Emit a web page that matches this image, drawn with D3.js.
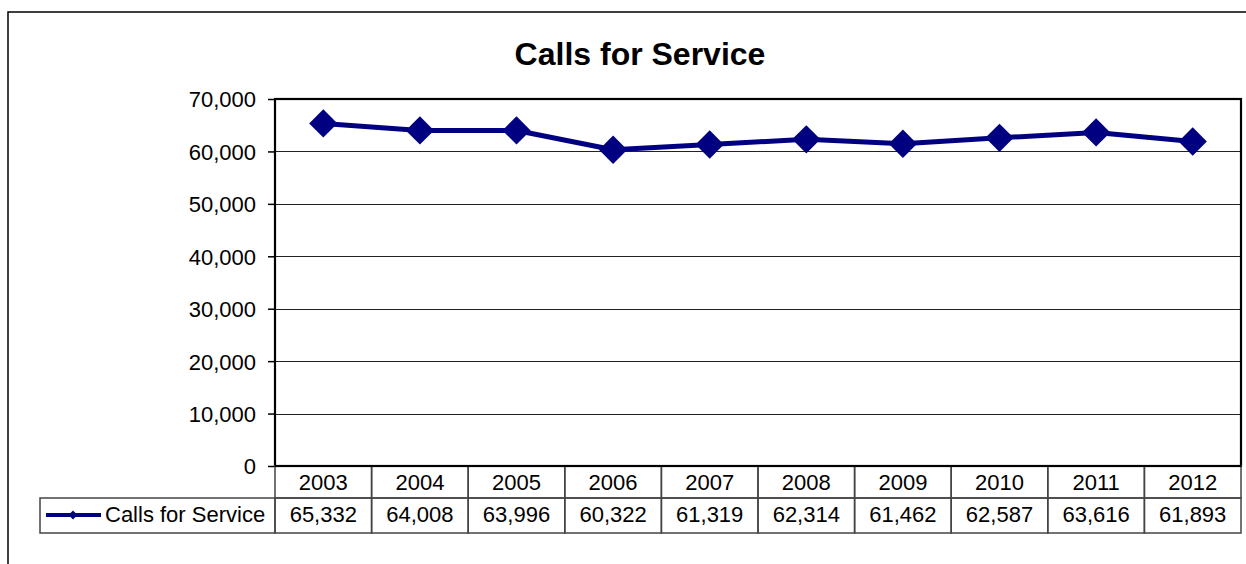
<!DOCTYPE html>
<html><head><meta charset="utf-8">
<script src="https://cdn.jsdelivr.net/npm/d3@7"></script>
<style>body{margin:0;background:#fff;}svg{display:block;font-family:"Liberation Sans",Arial,sans-serif;}</style>
</head><body>
<svg id="c" width="1246" height="564"></svg>
<script>
const title = "Calls for Service";
const seriesName = "Calls for Service";
const years = ["2003","2004","2005","2006","2007","2008","2009","2010","2011","2012"];
const calls = [65332,64008,63996,60322,61319,62314,61462,62587,63616,61893];
const yTicks = [0,10000,20000,30000,40000,50000,60000,70000];

const svg = d3.select("#c");
const L = 275, R = 1241, T = 99, B = 466;
const row1 = 498, row2 = 533, legL = 40;
const fmt = d3.format(",");
const navy = "#000080";
const fs = 22;

// outer frame
svg.append("rect").attr("x",8).attr("y",12).attr("width",1250).attr("height",570)
  .attr("fill","none").attr("stroke","#000").attr("stroke-width",1.5);

svg.append("text").attr("x",640).attr("y",65).attr("text-anchor","middle")
  .attr("font-size",32).attr("font-weight","bold").text(title);

const x = d3.scaleBand().domain(years).range([L,R]);
const y = d3.scaleLinear().domain([0,70000]).range([B,T]);

// gridlines
svg.append("g").selectAll("line").data(yTicks.slice(1)).join("line")
  .attr("x1",L).attr("x2",R).attr("y1",d=>Math.round(y(d))+0.5).attr("y2",d=>Math.round(y(d))+0.5)
  .attr("stroke","#222").attr("stroke-width",1);

// y axis
const ya = svg.append("g").attr("transform",`translate(${L},0)`)
  .call(d3.axisLeft(y).tickValues(yTicks).tickFormat(fmt).tickSize(7).tickPadding(12));
ya.select(".domain").remove();
ya.selectAll("line").attr("stroke","#000").attr("stroke-width",1.5);
ya.selectAll("text").attr("font-size",fs).attr("fill","#000").attr("font-family","Liberation Sans, Arial, sans-serif").attr("dy","0.36em");

// plot border
svg.append("rect").attr("x",L).attr("y",T).attr("width",R-L).attr("height",B-T)
  .attr("fill","none").attr("stroke","#000").attr("stroke-width",2.2);

// line
const line = d3.line().x((d,i)=>x(years[i])+x.bandwidth()/2).y(d=>y(d));
svg.append("path").datum(calls).attr("d",line).attr("fill","none")
  .attr("stroke",navy).attr("stroke-width",5).attr("stroke-linejoin","round");
svg.append("g").selectAll("path").data(calls).join("path")
  .attr("transform",(d,i)=>`translate(${x(years[i])+x.bandwidth()/2},${y(d)}) rotate(45)`)
  .attr("d",d3.symbol().type(d3.symbolSquare).size(400)).attr("fill",navy);

// data table
const tg = svg.append("g");
const gridC = "#444";
years.forEach((yr,i)=>{
  tg.append("rect").attr("x",x(yr)).attr("y",B).attr("width",x.bandwidth()).attr("height",row1-B)
    .attr("fill","none").attr("stroke",gridC).attr("stroke-width",1.5);
  tg.append("text").attr("x",x(yr)+x.bandwidth()/2).attr("y",B+24).attr("text-anchor","middle")
    .attr("font-size",fs).text(yr);
  tg.append("rect").attr("x",x(yr)).attr("y",row1).attr("width",x.bandwidth()).attr("height",row2-row1)
    .attr("fill","none").attr("stroke",gridC).attr("stroke-width",1.5);
  tg.append("text").attr("x",x(yr)+x.bandwidth()/2).attr("y",row1+24).attr("text-anchor","middle")
    .attr("font-size",fs).text(fmt(calls[i]));
});
tg.append("rect").attr("x",legL).attr("y",row1).attr("width",L-legL).attr("height",row2-row1)
  .attr("fill","none").attr("stroke",gridC).attr("stroke-width",1.5);
tg.append("line").attr("x1",46).attr("x2",101).attr("y1",515).attr("y2",515)
  .attr("stroke",navy).attr("stroke-width",4);
tg.append("path").attr("transform","translate(73,515) rotate(45)")
  .attr("d",d3.symbol().type(d3.symbolSquare).size(40)).attr("fill",navy);
tg.append("text").attr("x",105).attr("y",row1+24).attr("font-size",fs).text(seriesName);

svg.append("line").attr("x1",L).attr("x2",R).attr("y1",B).attr("y2",B).attr("stroke","#000").attr("stroke-width",2.2);
</script>
</body></html>
